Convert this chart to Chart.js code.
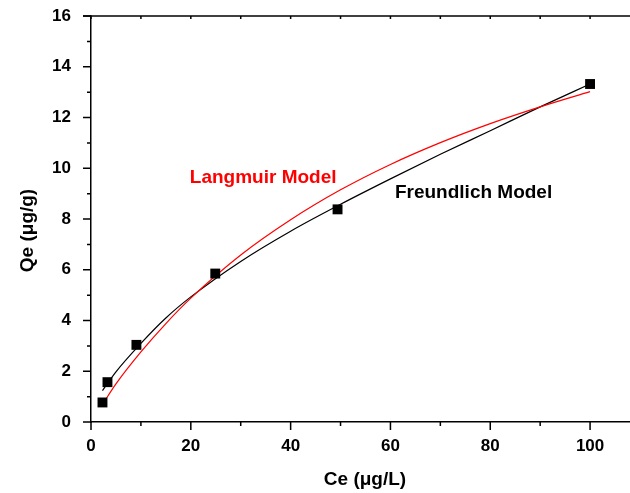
<!DOCTYPE html>
<html>
<head>
<meta charset="utf-8">
<script src="https://cdn.jsdelivr.net/npm/chart.js@4.4.0/dist/chart.umd.min.js"></script>
<style>
    html, body { margin: 0; padding: 0; background: #ffffff; }
    #wrap { width: 630px; height: 493px; position: relative; }
</style>
</head>
<body>
<div id="wrap"><canvas id="isotherm_chart"></canvas></div>
<script>
// measured points
const ce_values = [2.3, 3.3, 9.1, 24.9, 49.4, 100];
const qe_values = [0.77, 1.57, 3.04, 5.85, 8.38, 13.32];

// fitted model curves
const fit_ce = [2.3, 5, 10, 15, 20, 30, 40, 50, 60, 70, 80, 90, 100];
const freundlich_qe = [1.24, 1.98, 3.10, 4.10, 4.93, 6.33, 7.52, 8.58, 9.58, 10.55, 11.48, 12.42, 13.32];
const langmuir_qe = [0.69, 1.50, 2.76, 3.88, 4.88, 6.58, 7.97, 9.15, 10.15, 11.01, 11.76, 12.42, 13.02];

// axis ticks
const x_major_ticks = [0, 20, 40, 60, 80, 100];
const x_minor_ticks = [10, 30, 50, 70, 90];
const y_major_ticks = [0, 2, 4, 6, 8, 10, 12, 14, 16];
const y_minor_ticks = [1, 3, 5, 7, 9, 11, 13, 15];

const font_family = '"Liberation Sans", Arial, sans-serif';

function to_points(xs, ys) {
    return xs.map((x, i) => ({ x: x, y: ys[i] }));
}

// tick marks, top frame line, axis titles and curve labels
const frame_plugin = {
    id: 'frame_plugin',
    afterDraw(chart) {
        const ctx = chart.ctx;
        const area = chart.chartArea;
        const xs = chart.scales.x;
        const ys = chart.scales.y;

        ctx.save();
        ctx.strokeStyle = '#000';
        ctx.lineWidth = 1.5;

        // top frame
        ctx.beginPath();
        ctx.moveTo(area.left - 8, area.top);
        ctx.lineTo(area.right, area.top);
        ctx.stroke();

        ctx.beginPath();
        x_major_ticks.forEach(v => {
            const px = xs.getPixelForValue(v);
            ctx.moveTo(px, area.bottom);
            ctx.lineTo(px, area.bottom + 8);
            ctx.moveTo(px, area.top);
            ctx.lineTo(px, area.top + 3);
        });
        x_minor_ticks.forEach(v => {
            const px = xs.getPixelForValue(v);
            ctx.moveTo(px, area.bottom);
            ctx.lineTo(px, area.bottom + 4);
            ctx.moveTo(px, area.top);
            ctx.lineTo(px, area.top + 3);
        });
        y_major_ticks.forEach(v => {
            const py = ys.getPixelForValue(v);
            ctx.moveTo(area.left, py);
            ctx.lineTo(area.left - 8, py);
        });
        y_minor_ticks.forEach(v => {
            const py = ys.getPixelForValue(v);
            ctx.moveTo(area.left, py);
            ctx.lineTo(area.left - 4, py);
        });
        ctx.stroke();

        // axis titles
        ctx.fillStyle = '#000';
        ctx.font = 'bold 19px ' + font_family;
        ctx.textAlign = 'center';
        ctx.textBaseline = 'alphabetic';
        ctx.fillText('Ce (μg/L)', 365, 485);

        ctx.save();
        ctx.translate(32.5, 230.5);
        ctx.rotate(-Math.PI / 2);
        ctx.fillText('Qe (μg/g)', 0, 0);
        ctx.restore();

        // curve labels
        ctx.textAlign = 'left';
        ctx.fillStyle = '#ff0000';
        ctx.fillText('Langmuir Model', xs.getPixelForValue(19.8), ys.getPixelForValue(9.42));
        ctx.fillStyle = '#000';
        ctx.fillText('Freundlich Model', xs.getPixelForValue(60.9), ys.getPixelForValue(8.82));

        ctx.restore();
    }
};

const isotherm_chart = document.getElementById('isotherm_chart');

new Chart(isotherm_chart, {
    type: 'scatter',
    data: {
        datasets: [{
            label: 'Experimental',
            data: to_points(ce_values, qe_values),
            pointStyle: 'rect',
            pointRadius: 7,
            pointBackgroundColor: '#000',
            pointBorderWidth: 0,
            showLine: false,
            order: 0,
        }, {
            label: 'Langmuir Model',
            data: to_points(fit_ce, langmuir_qe),
            showLine: true,
            borderColor: '#ff0000',
            borderWidth: 1.2,
            pointRadius: 0,
            cubicInterpolationMode: 'monotone',
            order: 1,
        }, {
            label: 'Freundlich Model',
            data: to_points(fit_ce, freundlich_qe),
            showLine: true,
            borderColor: '#000',
            borderWidth: 1.2,
            pointRadius: 0,
            cubicInterpolationMode: 'monotone',
            order: 2,
        }]
    },
    options: {
        responsive: true,
        maintainAspectRatio: false,
        animation: false,
        layout: {
            autoPadding: false,
            padding: { top: 16, right: 0, bottom: 0, left: 0 }
        },
        plugins: {
            legend: false,
            tooltip: { enabled: false }
        },
        scales: {
            x: {
                type: 'linear',
                min: 0,
                max: 108,
                afterFit: scale => {
                    scale.height = 71;
                    scale.paddingLeft = 0;
                    scale.paddingRight = 0;
                },
                grid: { display: false, drawTicks: false },
                border: { display: true, color: '#000', width: 1.5 },
                ticks: {
                    stepSize: 20,
                    includeBounds: false,
                    padding: 14,
                    color: '#000',
                    maxRotation: 0,
                    font: { family: font_family, size: 17, weight: 'bold' }
                }
            },
            y: {
                type: 'linear',
                min: 0,
                max: 16,
                afterFit: scale => {
                    scale.width = 91;
                    scale.paddingTop = 0;
                    scale.paddingBottom = 0;
                },
                grid: { display: false, drawTicks: false },
                border: { display: true, color: '#000', width: 1.5 },
                ticks: {
                    stepSize: 2,
                    padding: 20,
                    color: '#000',
                    font: { family: font_family, size: 17, weight: 'bold' }
                }
            }
        }
    },
    plugins: [frame_plugin]
});
</script>
</body>
</html>
